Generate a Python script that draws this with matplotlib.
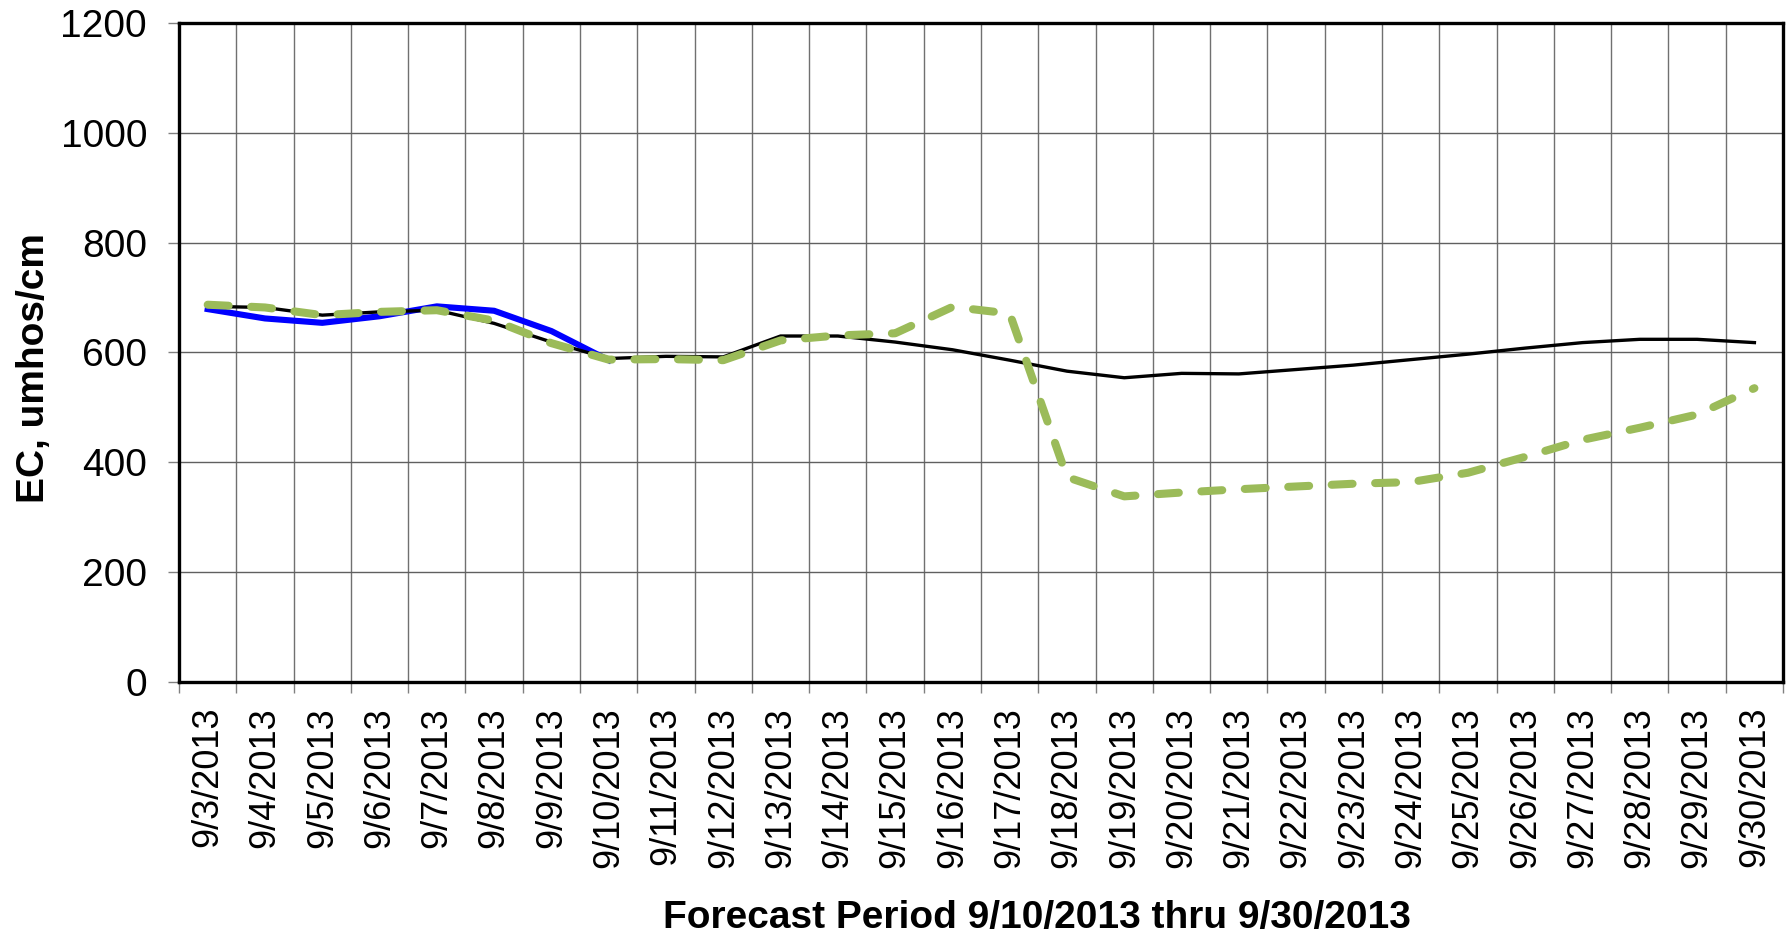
import matplotlib
matplotlib.use("Agg")
import matplotlib.pyplot as plt
from matplotlib.ticker import FixedLocator
import numpy as np

# 日期标签
dates = ["9/%d/2013" % d for d in range(3, 31)]

# 模型 (黑线)
model_ec = [684, 682, 668, 674, 677, 653, 619, 589, 593, 592,
            630, 630, 619, 605, 586, 566, 554, 562, 561, 569,
            577, 587, 597, 608, 618, 624, 624, 618]

# 实测 (蓝线, 9/3 - 9/10)
observed_ec = [679, 662, 654, 666, 684, 676, 639, 586]

# 预报 (绿色虚线)
forecast_ec = [687, 682, 668, 674, 677, 658, 617, 587, 588, 586,
               622, 631, 635, 683, 671, 373, 338, 345, 351, 356,
               361, 364, 381, 410, 441, 463, 487, 535]

y_ticks = [0, 200, 400, 600, 800, 1000, 1200]


def main():
    plt.rcParams["font.family"] = ["Liberation Sans", "DejaVu Sans"]
    fig = plt.figure(figsize=(17.87, 9.43), dpi=100)
    ax = fig.add_axes([0.1002, 0.2768, 0.8976, 0.6988])

    x = np.arange(len(dates))
    ax.plot(x[:len(observed_ec)], observed_ec, color="#0000ff", lw=4.4,
            solid_joinstyle="round", zorder=3)
    ax.plot(x, model_ec, color="black", lw=2.4, solid_joinstyle="round", zorder=4)
    ax.plot(x, forecast_ec, color="#9bbb59", lw=5.8, dashes=(2.6, 2.8),
            dash_capstyle="round", dash_joinstyle="round", zorder=5)

    ax.set_xlim(-0.5, len(dates) - 0.5)
    ax.set_ylim(0, 1200)
    ax.set_yticks(y_ticks)
    ax.set_xticks(x)
    ax.set_xticklabels(dates, rotation=90, fontsize=26)
    ax.xaxis.set_minor_locator(FixedLocator(np.arange(-0.5, len(dates), 1.0)))

    ax.tick_params(axis="y", labelsize=28, length=8, width=1, color="#808080",
                   pad=15, direction="out")
    ax.tick_params(axis="x", which="major", length=0, pad=18)
    ax.tick_params(axis="x", which="minor", length=8, width=1, color="#808080",
                   direction="out")

    ax.grid(axis="y", which="major", color="#606060", lw=1)
    ax.grid(axis="x", which="minor", color="#707070", lw=1)
    ax.set_axisbelow(True)

    for s in ax.spines.values():
        s.set_linewidth(2.4)
        s.set_color("black")

    label_font = dict(fontsize=28, fontweight="bold")
    ax.set_ylabel("EC, umhos/cm", **label_font)
    ax.yaxis.set_label_coords(-0.0795, 0.477)
    fig.text(0.5805, 0.026, "Forecast Period 9/10/2013 thru 9/30/2013",
             ha="center", va="center", **label_font)

    fig.savefig("out.png", dpi=100)
    plt.close(fig)


if __name__ == "__main__":
    main()
